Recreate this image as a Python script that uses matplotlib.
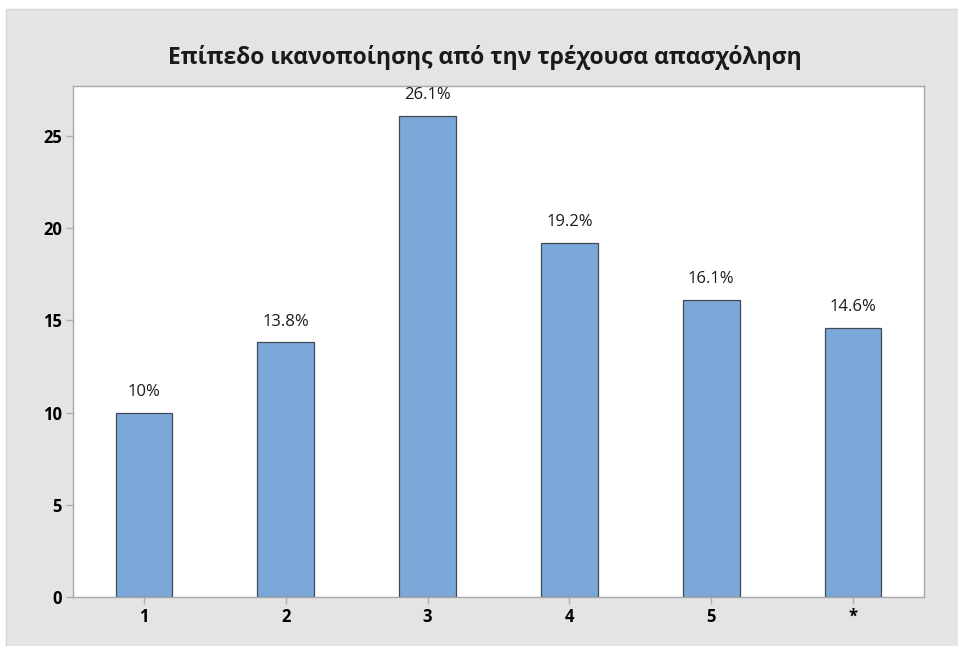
import matplotlib
matplotlib.use("Agg")
import matplotlib.pyplot as plt
from matplotlib.patches import Rectangle

categories = ["1", "2", "3", "4", "5", "*"]
percents = [10.0, 13.8, 26.1, 19.2, 16.1, 14.6]
value_labels = ["10%", "13.8%", "26.1%", "19.2%", "16.1%", "14.6%"]
yticks = [0, 5, 10, 15, 20, 25]
title = "Επίπεδο ικανοποίησης από την τρέχουσα απασχόληση"

plt.rcParams['font.family'] = ['Open Sans', 'DejaVu Sans']

W, H = 958, 646
fig = plt.figure(figsize=(W / 100, H / 100), dpi=100, facecolor="white")

# gray backdrop like the Minitab graph region
fig.patches.append(Rectangle((6 / W, -0.05), 1.05 - 6 / W, 1.05 - 9 / H, transform=fig.transFigure,
                             facecolor="#e4e4e4", edgecolor="#d6d6d6", lw=1, zorder=-1))

ax = fig.add_axes([73 / W, 1 - 597 / H, (924 - 73) / W, (597 - 86) / H])
ax.set_facecolor("white")

x = list(range(len(categories)))
bars = ax.bar(x, percents, width=0.4, color="#7ba7d9", edgecolor="#3f4a55", linewidth=0.9)
for b, lab in zip(bars, value_labels):
    ax.text(b.get_x() + b.get_width() / 2, b.get_height() + 0.7, lab,
            ha="center", va="bottom", fontsize=12, color="#1a1a1a")

ax.set_xlim(-0.5, 5.5)
ax.set_ylim(0, 27.7)
ax.set_xticks(x)
ax.set_xticklabels(categories, fontsize=12, fontweight="bold")
ax.set_yticks(yticks)
ax.set_yticklabels([str(t) for t in yticks], fontsize=12, fontweight="bold")
ax.tick_params(axis="both", length=5, width=1, color="#b0b0b0", pad=3)

for s in ax.spines.values():
    s.set_color("#a8a8a8")
    s.set_linewidth(1)

fig.text(485 / W, 1 - 57 / H, title, ha="center", va="center",
         fontsize=16.5, fontweight="bold", color="#1a1a1a")

fig.savefig("out.png", dpi=100, facecolor=fig.get_facecolor())
